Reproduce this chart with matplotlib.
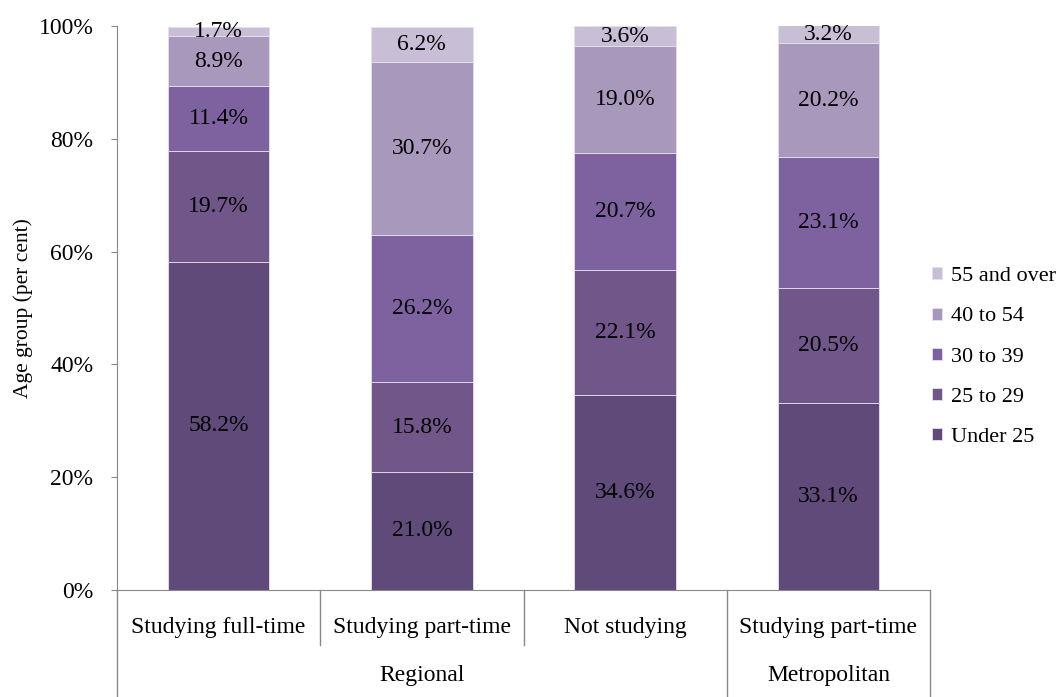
import matplotlib
matplotlib.use("Agg")
import matplotlib.pyplot as plt
from matplotlib.transforms import blended_transform_factory
import numpy as np

plt.rcParams["font.family"] = ["Liberation Serif", "DejaVu Serif"]

categories = ["Studying full-time", "Studying part-time", "Not studying", "Studying part-time"]
groups = ["Regional", "Metropolitan"]
group_spans = [(0, 2), (3, 3)]  # first and last category index of each group
age_groups = ["Under 25", "25 to 29", "30 to 39", "40 to 54", "55 and over"]
under_25 = [58.2, 21.0, 34.6, 33.1]
age_25_29 = [19.7, 15.8, 22.1, 20.5]
age_30_39 = [11.4, 26.2, 20.7, 23.1]
age_40_54 = [8.9, 30.7, 19.0, 20.2]
age_55_over = [1.7, 6.2, 3.6, 3.2]
colors = ["#5f4a7a", "#705689", "#7e62a0", "#a898bc", "#c8bed6"]

series = [under_25, age_25_29, age_30_39, age_40_54, age_55_over]
FS = 17

fig = plt.figure(figsize=(10.59, 6.97), dpi=100)
ax = fig.add_axes([117 / 1059, 107 / 697, 813 / 1059, 564 / 697])

x = np.arange(len(categories))
bottom = np.zeros(len(categories))
handles = []
for vals, col, name in zip(series, colors, age_groups):
    vals = np.array(vals)
    b = ax.bar(x, vals, 0.5, bottom=bottom, color=col, edgecolor="#e6e0ee",
               linewidth=0.6, label=name)
    handles.append(b)
    for xi, v, b0 in zip(x, vals, bottom):
        ax.text(xi, b0 + v / 2, f"{v:.1f}%", ha="center", va="center",
                fontsize=FS, color="black")
    bottom += vals

ax.set_xlim(-0.5, len(categories) - 0.5)
ax.set_ylim(0, 100)
ax.set_yticks(np.arange(0, 101, 20))
ax.set_yticklabels([f"{v}%" for v in range(0, 101, 20)], fontsize=FS)
ax.tick_params(axis="y", length=4, color="#888888", pad=13)
ax.set_xticks([])
ax.set_ylabel("Age group (per cent)", fontsize=15.5)
ax.yaxis.set_label_coords(-0.103, 0.5)

for s in ["top", "right"]:
    ax.spines[s].set_visible(False)
ax.spines["left"].set_color("#888888")
ax.spines["bottom"].set_color("#888888")

# two-level category axis
tr = blended_transform_factory(ax.transData, ax.transAxes)
for xi, cat in zip(x, categories):
    ax.text(xi, -0.067, cat, transform=tr, ha="center", va="center", fontsize=FS)
group_edges = set()
for (g0, g1), name in zip(group_spans, groups):
    ax.text((g0 + g1) / 2, -0.151, name, transform=tr, ha="center",
            va="center", fontsize=FS)
    group_edges.update([g0 - 0.5, g1 + 0.5])
for edge in np.arange(-0.5, len(categories), 1.0):
    y_end = -0.19 if edge in group_edges else -0.0975
    ax.plot([edge, edge], [0, y_end], transform=tr, color="#888888",
            linewidth=1, clip_on=False)

leg = ax.legend(handles[::-1], age_groups[::-1], loc="center left",
                bbox_to_anchor=(1.003, 0.413), frameon=False, fontsize=16,
                handlelength=0.45, handleheight=0.45, handletextpad=0.4,
                labelspacing=0.95, borderaxespad=0, borderpad=0)

fig.savefig("out.png", dpi=100)
